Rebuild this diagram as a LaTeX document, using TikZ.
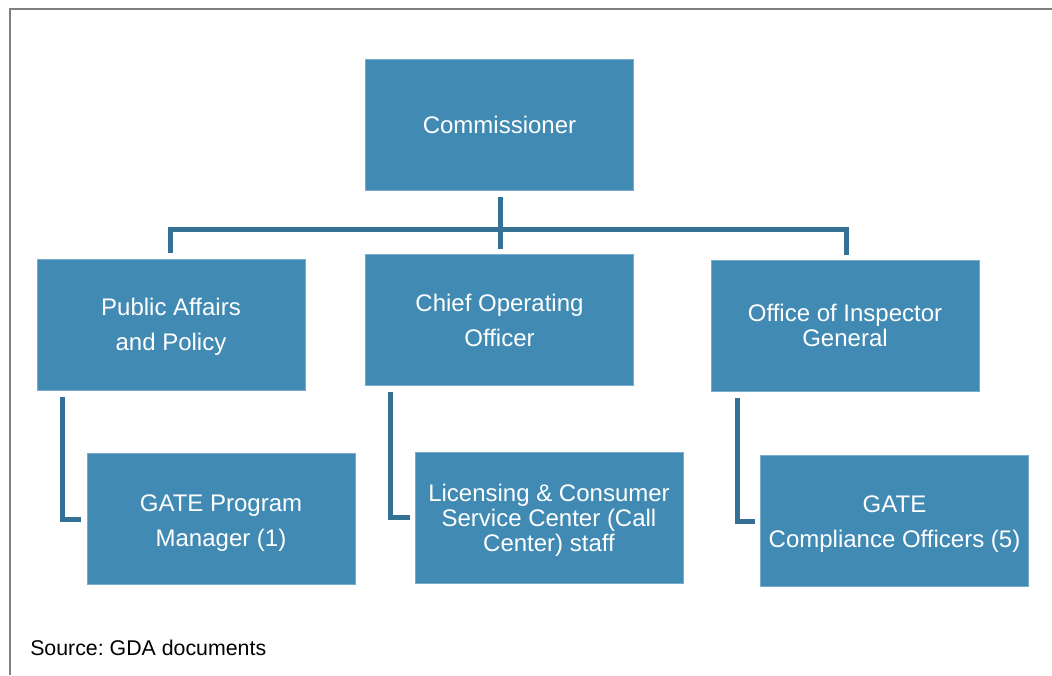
\documentclass[tikz,border=0pt]{standalone}
\usepackage{fontspec}
\setmainfont{Liberation Sans}
\frenchspacing
\definecolor{boxblue}{RGB}{65,138,179}
\definecolor{boxedge}{RGB}{120,172,204}
\definecolor{connblue}{RGB}{52,113,148}
\definecolor{framegray}{RGB}{128,128,128}
\tikzset{
  orgbox/.style={fill=boxblue, draw=boxedge, line width=0.4pt,
    minimum width=268*0.75pt, minimum height=131*0.75pt, inner sep=0pt},
  boxtext/.style={text=white, inner sep=0pt, align=center,
    font=\fontsize{18pt}{26.25pt}\selectfont},
  tighttext/.style={boxtext, font=\fontsize{18pt}{18.75pt}\selectfont},
  conn/.style={draw=connblue, line width=3.75pt},
  frameline/.style={draw=framegray, line width=1.5pt}
}
\begin{document}
\begin{tikzpicture}[x=0.75pt,y=-0.75pt]
\useasboundingbox (0,0) rectangle (1052,675);
\draw[frameline] (10,675) -- (10,9) -- (1052,9);

\node[orgbox] (comm) at (499.5,125) {};
\node[orgbox] (pap) at (171,324.5) {};
\node[orgbox] (coo) at (499.5,320) {};
\node[orgbox] (oig) at (845,326) {};
\node[orgbox] (gpm) at (221,518.5) {};
\node[orgbox] (lcs) at (549,517.5) {};
\node[orgbox] (gco) at (894.5,521) {};

\node[boxtext] (comm-t) at (comm.center) {Commissioner};
\node[boxtext] (pap-t) at ([yshift=-1.5pt]pap.center) {Public Affairs\\and Policy};
\node[boxtext] (coo-t) at (coo.center) {Chief Operating\\Officer};
\node[tighttext] (oig-t) at ([yshift=0.75pt]oig.center) {Office of Inspector\\General};
\node[boxtext] (gpm-t) at ([yshift=-3.75pt]gpm.center) {GATE Program\\Manager (1)};
\node[tighttext] (lcs-t) at ([yshift=-2.25pt]lcs.center) {Licensing \& Consumer\\Service Center (Call\\Center) staff};
\node[boxtext] (gco-t) at ([yshift=-2.25pt]gco.center) {GATE\\Compliance Officers (5)};

% tree from Commissioner
\coordinate (ctop) at (500,197);
\coordinate (cbot) at (500,249);
\coordinate (lend) at (170,253);
\coordinate (rend) at (846,255);
\draw[conn] (ctop) -- (cbot);
\draw[conn] (lend) |- (500,229) -| (rend);

% elbow connectors
\coordinate (e1a) at (62,397);
\coordinate (e1b) at (81,519);
\coordinate (e2a) at (390,392);
\coordinate (e2b) at (410,517);
\coordinate (e3a) at (737,398);
\coordinate (e3b) at (755,521);
\draw[conn] (e1a) |- (e1b);
\draw[conn] (e2a) |- (e2b);
\draw[conn] (e3a) |- (e3b);

\node[anchor=west, inner sep=0pt, font=\fontsize{16pt}{19pt}\selectfont] (src) at (30,648) {Source: GDA documents};
\end{tikzpicture}
\end{document}
